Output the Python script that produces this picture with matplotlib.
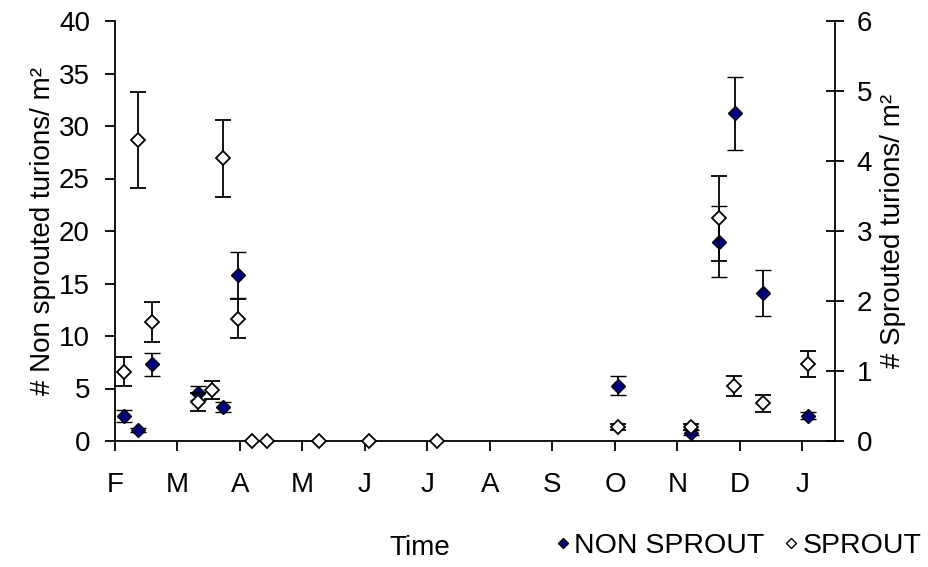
import matplotlib
matplotlib.use('Agg')
import matplotlib.pyplot as plt
from matplotlib.lines import Line2D

plt.rcParams['font.family'] = ['Liberation Sans', 'DejaVu Sans']

# month ticks, x in months from start of Feb
months = ['F', 'M', 'A', 'M', 'J', 'J', 'A', 'S', 'O', 'N', 'D', 'J']

# non sprouted turions (left axis)
ns_x = [0.15, 0.37, 0.60, 1.33, 1.73, 1.97, 8.05, 9.22, 9.67, 9.92, 10.37, 11.09]
ns_y = [2.4, 1.05, 7.3, 4.6, 3.25, 15.8, 5.25, 0.8, 19.0, 31.2, 14.1, 2.4]
ns_err = [0.6, 0.2, 1.1, 0.65, 0.5, 2.2, 0.9, 0.25, 3.4, 3.5, 2.2, 0.35]

# sprouted turions (right axis)
sp_x = [0.15, 0.37, 0.60, 1.33, 1.56, 1.73, 1.97, 2.19, 2.44, 3.27, 4.07, 5.15,
        8.05, 9.22, 9.67, 9.91, 10.37, 11.09]
sp_y = [0.99, 4.30, 1.70, 0.56, 0.73, 4.04, 1.75, 0, 0, 0, 0, 0,
        0.20, 0.20, 3.18, 0.79, 0.54, 1.10]
sp_err = [0.21, 0.69, 0.28, 0.13, 0.13, 0.55, 0.28, 0, 0, 0, 0, 0,
          0.04, 0.04, 0.61, 0.14, 0.12, 0.18]

fs = 20

fig = plt.figure(figsize=(9.29, 5.67), dpi=100)
ax = fig.add_axes([115/929, 1-441/567, 720/929, 420/567])
ax2 = ax.twinx()

ax.errorbar(ns_x, ns_y, yerr=ns_err, fmt='D', color='black', mfc='#000080', mec='black',
            ms=7, mew=1.0, elinewidth=1.3, capsize=6, capthick=1.3, zorder=3)
ax2.errorbar(sp_x, sp_y, yerr=sp_err, fmt='D', color='black', mfc='white', mec='black',
             ms=7, mew=1.3, elinewidth=1.3, capsize=6, capthick=1.3, zorder=3, clip_on=False)

ax.set_xlim(0, 11.52)
ax.set_ylim(0, 40)
ax2.set_ylim(0, 6)
ax.set_xticks(range(len(months)))
ax.set_xticklabels(months)
ax.set_yticks(range(0, 41, 5))
ax2.set_yticks(range(0, 7))

for s in ['top', 'right']:
    ax.spines[s].set_visible(False)
for s in ['top', 'left', 'bottom']:
    ax2.spines[s].set_visible(False)
for sp in list(ax.spines.values()) + list(ax2.spines.values()):
    sp.set_linewidth(1.3)

ax.tick_params(axis='y', direction='out', length=7, width=1.3, labelsize=fs, pad=11)
ax.tick_params(axis='x', direction='out', length=7, width=1.3, labelsize=fs, pad=15)
ax2.tick_params(axis='y', direction='inout', length=13, width=1.3, labelsize=fs, pad=9)

ax.set_ylabel('# Non sprouted turions/ m²', fontsize=fs, labelpad=2)
ax2.set_ylabel('# Sprouted turions/ m²', fontsize=fs, labelpad=6)

fig.text(420/929, 1-548/567, 'Time', fontsize=fs, ha='center', va='center')

handles = [Line2D([], [], ls='none', marker='D', ms=5, mfc='#000080', mec='black', mew=1.0),
           Line2D([], [], ls='none', marker='D', ms=5, mfc='white', mec='black', mew=1.0)]
fig.legend(handles, ['NON SPROUT', 'SPROUT'], loc='center left',
           bbox_to_anchor=(557/929, 1-546/567), ncol=2, frameon=False, fontsize=20.5,
           handlelength=0.4, handletextpad=0.2, columnspacing=0.75, borderpad=0,
           borderaxespad=0)

fig.savefig('out.png', dpi=100)
